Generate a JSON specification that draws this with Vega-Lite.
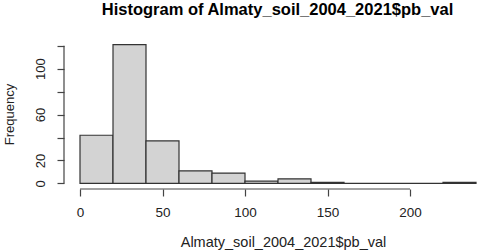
{
  "$schema": "https://vega.github.io/schema/vega-lite/v6.json",
  "width": 413,
  "height": 150,
  "autosize": {"type": "none"},
  "padding": {"left": 64, "top": 39, "right": 3, "bottom": 63},
  "background": "white",
  "config": {"view": {"stroke": null}, "font": "Liberation Sans"},
  "title": {
    "text": "Histogram of Almaty_soil_2004_2021$pb_val",
    "font": "Liberation Sans",
    "fontSize": 16.5,
    "fontWeight": "bold",
    "color": "#000000",
    "anchor": "middle",
    "frame": "group",
    "dx": 7,
    "offset": 21
  },
  "datasets": {
    "bins": [
      {"start": 0, "end": 20, "count": 42},
      {"start": 20, "end": 40, "count": 121},
      {"start": 40, "end": 60, "count": 37},
      {"start": 60, "end": 80, "count": 11},
      {"start": 80, "end": 100, "count": 9},
      {"start": 100, "end": 120, "count": 2},
      {"start": 120, "end": 140, "count": 4},
      {"start": 140, "end": 160, "count": 1},
      {"start": 160, "end": 180, "count": 0},
      {"start": 180, "end": 200, "count": 0},
      {"start": 200, "end": 220, "count": 0},
      {"start": 220, "end": 240, "count": 1}
    ],
    "xaxisline": [{"x": 0, "x2": 200, "y": -4.84}],
    "yaxisline": [{"x": -9.7, "y": 0, "y2": 120}]
  },
  "layer": [
    {
      "data": {"name": "bins"},
      "mark": {"type": "bar", "fill": "#D3D3D3", "stroke": "#333333", "strokeWidth": 1.2},
      "encoding": {
        "x": {
          "field": "start", "type": "quantitative",
          "scale": {"domain": [-9.7, 240.6], "nice": false, "zero": false},
          "axis": {
            "values": [0, 50, 100, 150, 200],
            "tickCount": 20,
            "domain": false,
            "grid": false,
            "tickSize": 7,
            "tickColor": "#444444",
            "tickWidth": 1.2,
            "labelFont": "Liberation Sans",
            "labelFontSize": 13.5,
            "labelColor": "#222222",
            "labelPadding": 9,
            "labelBaseline": "top",
            "labelFlush": false,
            "title": "Almaty_soil_2004_2021$pb_val",
            "titleFont": "Liberation Sans",
            "titleFontSize": 14.5,
            "titleFontWeight": "normal",
            "titleColor": "#222222",
            "titleX": 219,
            "titleY": 53,
            "titleBaseline": "middle",
            "titleAnchor": "middle"
          }
        },
        "x2": {"field": "end"},
        "y": {
          "field": "count", "type": "quantitative",
          "scale": {"domain": [-4.84, 125.84], "nice": false, "zero": false},
          "axis": {
            "values": [0, 20, 40, 60, 80, 100, 120],
            "tickCount": 20,
            "labelExpr": "datum.value == 40 || datum.value == 80 || datum.value == 120 ? '' : datum.label",
            "domain": false,
            "grid": false,
            "tickSize": 7,
            "tickColor": "#444444",
            "tickWidth": 1.2,
            "labelFont": "Liberation Sans",
            "labelFontSize": 13,
            "labelColor": "#222222",
            "labelAngle": -90,
            "labelAlign": "center",
            "labelBaseline": "bottom",
            "labelPadding": 10,
            "labelFlush": false,
            "labelOverlap": false,
            "title": "Frequency",
            "titleFont": "Liberation Sans",
            "titleFontSize": 13,
            "titleFontWeight": "normal",
            "titleColor": "#222222",
            "titleX": -55,
            "titleY": 75,
            "titleBaseline": "middle",
            "titleAlign": "center",
            "titleAngle": -90
          }
        },
        "y2": {"datum": 0}
      }
    },
    {
      "data": {"name": "xaxisline"},
      "mark": {"type": "rule", "color": "#444444", "strokeWidth": 1.2},
      "encoding": {
        "x": {"field": "x", "type": "quantitative"},
        "x2": {"field": "x2"},
        "y": {"field": "y", "type": "quantitative"}
      }
    },
    {
      "data": {"name": "yaxisline"},
      "mark": {"type": "rule", "color": "#444444", "strokeWidth": 1.2},
      "encoding": {
        "x": {"field": "x", "type": "quantitative"},
        "y": {"field": "y", "type": "quantitative"},
        "y2": {"field": "y2"}
      }
    }
  ]
}
